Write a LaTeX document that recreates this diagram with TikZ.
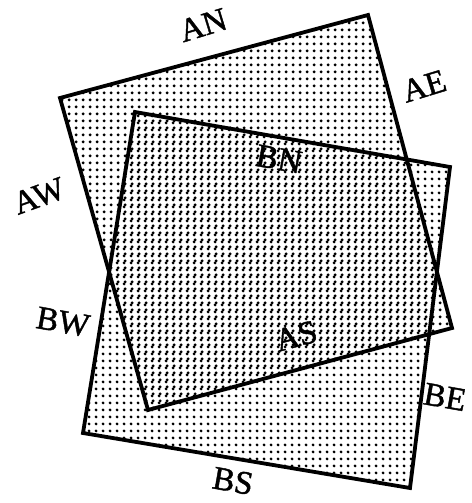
\documentclass[tikz,border=0pt]{standalone}
\usepackage{fontspec}
\setmainfont{Liberation Serif}
\newfontfamily\edgefont[FakeBold=1.3]{Liberation Serif}
\usetikzlibrary{patterns}
\pgfdeclarepatternformonly{halftone}{\pgfpointorigin}{\pgfpoint{6.6pt}{6.6pt}}{\pgfpoint{6.6pt}{6.6pt}}{%
  \pgfpathcircle{\pgfpoint{3.3pt}{3.3pt}}{1.6pt}%
  \pgfusepath{fill}}

\begin{document}
\begin{tikzpicture}[x=1pt, y=-1pt,
  sheet/.style={pattern=halftone, draw=black, line width=3.8pt, line join=miter},
  lbl/.style={font=\edgefont\fontsize{33}{34}\selectfont, inner sep=0pt}]
\useasboundingbox (0,0) rectangle (471,503);

% ================================================ sheet A (turned left)
\coordinate (anw) at (60,98);
\coordinate (ane) at (368,15);
\coordinate (ase) at (452,328);
\coordinate (asw) at (148,410);
\draw[sheet] (anw) -- (ane) -- (ase) -- (asw) -- cycle;

% ================================================ sheet B (turned right)
\coordinate (bnw) at (135,112);
\coordinate (bne) at (450,167);
\coordinate (bse) at (410,488);
\coordinate (bsw) at (83,433);
\draw[sheet] (bnw) -- (bne) -- (bse) -- (bsw) -- cycle;

% ================================================ edge names
\node[lbl, rotate=17]  (AN) at (203,25)  {AN};
\node[lbl, rotate=17]  (AE) at (424,86)  {AE};
\node[lbl, rotate=20]  (AW) at (39,196)  {AW};
\node[lbl, rotate=15]  (AS) at (296,336) {AS};
\node[lbl, rotate=-10] (BN) at (279,159) {BN};
\node[lbl, rotate=-10] (BW) at (63,322)  {BW};
\node[lbl, rotate=-10] (BE) at (445,397) {BE};
\node[lbl, rotate=-10] (BS) at (233,481) {BS};

\end{tikzpicture}
\end{document}
